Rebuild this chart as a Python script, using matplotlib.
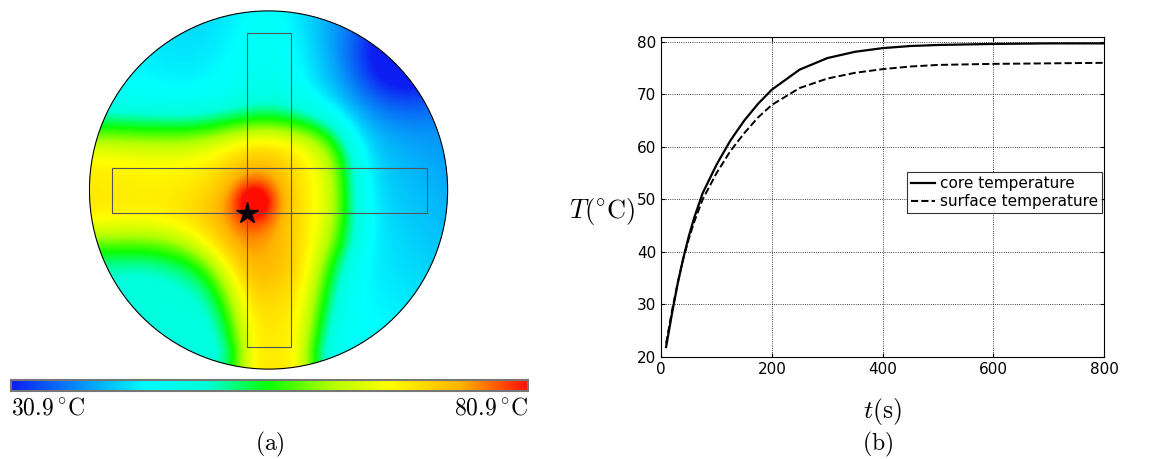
import numpy as np
import matplotlib
matplotlib.use("Agg")
import matplotlib.pyplot as plt
from matplotlib.colors import LinearSegmentedColormap
from matplotlib.patches import Circle, Rectangle

plt.rcParams["mathtext.fontset"] = "cm"

# ---- (b) temperature curves ----
t_s = [9, 20, 30, 40, 50, 60, 75, 100, 125, 150, 175, 200, 250, 300, 350,
       400, 450, 500, 600, 700, 800]
core_temp = [21.9, 28.5, 34.0, 38.8, 43.0, 46.6, 51.2, 56.6, 61.2, 65.0, 68.2,
             70.9, 74.7, 76.9, 78.1, 78.8, 79.2, 79.4, 79.6, 79.7, 79.7]
surface_temp = [22.6, 29.0, 34.2, 38.7, 42.5, 45.8, 50.0, 55.0, 59.2, 62.6,
                65.6, 68.0, 71.2, 73.0, 74.1, 74.8, 75.3, 75.6, 75.8, 75.9, 76.0]

# ---- (a) temperature field on the disc (unit radius) ----
t_min, t_max = 30.9, 80.9
base_temp = 43.0
base_slope = [-4.0, -4.0]          # dT/du, dT/dv
# warm / cold blobs: u, v, amplitude, width
blob_u = [-0.075, 0.74, -0.32, 0.03]
blob_v = [-0.067, 0.74, -0.34, -0.40]
blob_amp = [15.5, -10.0, 5.0, 4.0]
blob_w = [0.14, 0.20, 0.18, 0.20]
blob_kind = ["lorentz", "gauss", "gauss", "gauss"]
arm_amp = 22.0
# horizontal arm: centre v, half width, right end u
arm_h = [0.02, 0.36, 0.40]
# vertical arm: centre u, half width (near centre, bottom), top end v
arm_v = [0.04, 0.36, 0.24, 0.24]
# weak warm streak towards the top: centre u, width, amplitude
arm_up = [0.02, 0.30, 5.0]
# heater cross (u0, v0, width, height)
rect_h = [-0.875, -0.128, 1.761, 0.25]
rect_v = [-0.12, -0.878, 0.245, 1.756]
star_uv = [-0.12, -0.128]

cb_colors = [(0.0, (0.05, 0.12, 0.95)), (0.26, (0.0, 1.0, 1.0)),
             (0.38, (0.0, 1.0, 0.85)), (0.5, (0.05, 1.0, 0.0)),
             (0.62, (0.7, 1.0, 0.0)), (0.73, (1.0, 1.0, 0.0)),
             (0.87, (1.0, 0.7, 0.0)), (1.0, (1.0, 0.05, 0.0))]
cmap = LinearSegmentedColormap.from_list("heat", cb_colors)


def sig(x, w):
    return 1.0 / (1.0 + np.exp(-x / w))


n = 500
u, v = np.meshgrid(np.linspace(-1, 1, n), np.linspace(-1, 1, n))
field = base_temp + base_slope[0] * u + base_slope[1] * v

for bu, bv, ba, bw, kind in zip(blob_u, blob_v, blob_amp, blob_w, blob_kind):
    r2 = ((u - bu) ** 2 + (v - bv) ** 2) / bw ** 2
    if kind == "lorentz":
        field += ba / (1 + r2)
    else:
        field += ba * np.exp(-r2 / 2)

ridge_h = np.exp(-(np.abs(v - arm_h[0]) / arm_h[1]) ** 3) * sig(arm_h[2] - u, 0.07)
w_v = arm_v[1] + (arm_v[1] - arm_v[2]) / 0.6 * np.clip(v + 0.3, -0.6, 0)
ridge_v = np.exp(-(np.abs(u - arm_v[0]) / w_v) ** 3) * sig(arm_v[3] - v, 0.07)
ridge = 1 - (1 - ridge_h) * (1 - ridge_v)
field += arm_amp * ridge
field += arm_up[2] * np.exp(-((u - arm_up[0]) / arm_up[1]) ** 2) * sig(v, 0.1)
field = np.clip(field, t_min, t_max)

fig = plt.figure(figsize=(11.66, 4.59), dpi=100)

ax1 = fig.add_axes([0.0755, 0.1939, 0.3096, 0.7843])
im = ax1.imshow(field, origin="lower", extent=[-1, 1, -1, 1], cmap=cmap,
                vmin=t_min, vmax=t_max, interpolation="bilinear")
disc = Circle((0, 0), 1.0, transform=ax1.transData)
im.set_clip_path(disc)
ax1.add_patch(Circle((0, 0), 1.0, fill=False, ec="black", lw=0.8))
for rc in (rect_h, rect_v):
    ax1.add_patch(Rectangle((rc[0], rc[1]), rc[2], rc[3], fill=False,
                            ec="#555555", lw=0.8))
ax1.plot(star_uv[0], star_uv[1], marker="*", color="black", ms=16)
ax1.set_xlim(-1.005, 1.005)
ax1.set_ylim(-1.005, 1.005)
ax1.set_aspect("equal")
ax1.axis("off")

cax = fig.add_axes([0.0094, 0.148, 0.4434, 0.024])
cax.imshow(np.linspace(0, 1, 256)[None, :], aspect="auto", cmap=cmap,
           extent=[0, 1, 0, 1])
cax.set_xticks([])
cax.set_yticks([])
for sp in cax.spines.values():
    sp.set_color("#777777")
    sp.set_linewidth(1.5)

fig.text(0.0094, 0.112, r"$30.9\,^{\circ}\mathrm{C}$", fontsize=17,
         ha="left", va="center")
fig.text(0.4528, 0.112, r"$80.9\,^{\circ}\mathrm{C}$", fontsize=17,
         ha="right", va="center")
fig.text(0.2316, 0.031, r"$(\mathrm{a})$", fontsize=17, ha="center", va="center")

ax2 = fig.add_axes([0.567, 0.2222, 0.380, 0.697])
ax2.plot(t_s, core_temp, "k-", lw=1.6, label="core temperature")
ax2.plot(t_s, surface_temp, "k--", lw=1.4, label="surface temperature")
ax2.set_xlim(0, 800)
ax2.set_ylim(20, 80.9)
ax2.set_xticks([0, 200, 400, 600, 800])
ax2.set_yticks([20, 30, 40, 50, 60, 70, 80])
ax2.tick_params(direction="in", top=True, right=True, labelsize=11, length=3)
ax2.grid(True, linestyle=":", color="black", lw=0.6)
ax2.set_xlabel(r"$t(\mathrm{s})$", fontsize=18.5, labelpad=14)
ax2.set_ylabel(r"$T(^{\circ}\mathrm{C})$", fontsize=19, rotation=0,
               ha="right", va="center")
ax2.yaxis.set_label_coords(-0.058, 0.456)
leg = ax2.legend(loc="upper right", bbox_to_anchor=(0.995, 0.578), fontsize=11,
                 frameon=True, fancybox=False, handlelength=1.6,
                 handletextpad=0.3, borderpad=0.25, labelspacing=0.2,
                 borderaxespad=0)
leg.get_frame().set_edgecolor("black")
leg.get_frame().set_linewidth(0.8)
fig.text(0.753, 0.031, r"$(\mathrm{b})$", fontsize=17, ha="center", va="center")

fig.savefig("out.png", dpi=100)
